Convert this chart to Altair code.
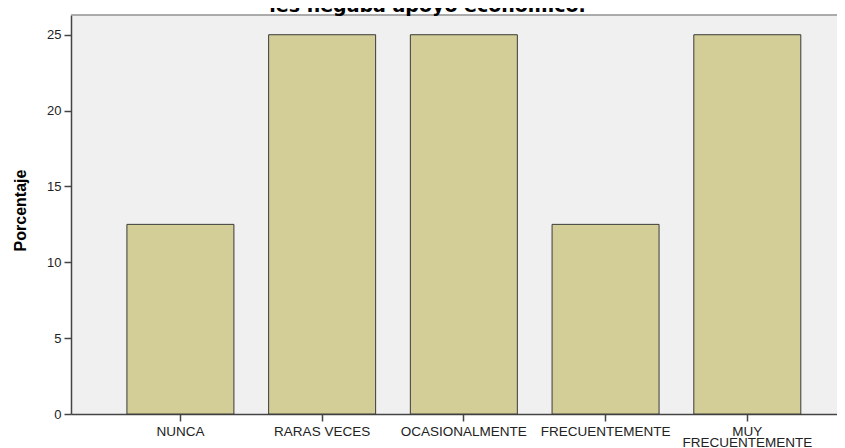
import altair as alt
import pandas as pd

categories = ["NUNCA", "RARAS VECES", "OCASIONALMENTE", "FRECUENTEMENTE", "MUY FRECUENTEMENTE"]
porcentaje = [12.5, 25.0, 25.0, 12.5, 25.0]
y_ticks = [0, 5, 10, 15, 20, 25]
title_text = "les negaba apoyo económico."
y_title = "Porcentaje"

df = pd.DataFrame({"cat": categories, "pct": porcentaje})

W, H = 766, 399

bars = alt.Chart(df).mark_bar(color="#d3ce97", stroke="#3a3a3a", strokeWidth=1).encode(
    x=alt.X(
        "cat:N",
        sort=categories,
        scale=alt.Scale(paddingInner=0.245, paddingOuter=0.325, align=0.607),
        axis=alt.Axis(
            title=None,
            labelAngle=0,
            labelFont="Liberation Sans",
            labelFontSize=13.5,
            labelColor="#222222",
            tickSize=7,
            tickColor="#444444",
            tickWidth=1.5,
            domainColor="#444444",
            domainWidth=1.5,
            labelPadding=3,
            labelLineHeight=11.5,
            labelOverlap=False,
            labelBound=False,
            labelExpr="datum.label == 'MUY FRECUENTEMENTE' ? ['MUY', 'FRECUENTEMENTE'] : datum.label",
        ),
    ),
    y=alt.Y(
        "pct:Q",
        scale=alt.Scale(domain=[0, 26.3], nice=False),
        axis=alt.Axis(
            values=y_ticks,
            title=y_title,
            grid=False,
            labelFont="Liberation Sans",
            labelFontSize=13,
            labelColor="#222222",
            labelPadding=3,
            tickSize=7,
            tickColor="#444444",
            tickWidth=1.5,
            domainColor="#444444",
            domainWidth=1.5,
            titleFont="Liberation Sans",
            titleFontSize=16,
            titleFontWeight="bold",
            titleColor="#000000",
            titleX=-46,
            titleY=195,
            titleBaseline="alphabetic",
            titleAlign="center",
            titleAngle=270,
        ),
    ),
)

top_line = alt.Chart(alt.Data(values=[{}])).mark_rule(color="#909090", strokeWidth=1.5).encode(
    x=alt.value(0), x2=alt.value(W), y=alt.value(0)
)

title = alt.Chart(alt.Data(values=[{"t": title_text}])).mark_text(
    font="DejaVu Sans", fontWeight="bold", fontSize=19, baseline="alphabetic", align="center", color="#000000"
).encode(text="t:N", x=alt.value(356.5), y=alt.value(-3))

chart = alt.layer(bars, top_line, title).properties(
    width=W,
    height=H,
    padding={"left": 63, "top": 7, "right": 0, "bottom": 34},
    autosize=alt.AutoSizeParams(type="none"),
    background="#ffffff",
).configure_view(fill="#f0f0f0", stroke="transparent")

chart.save("out.html", embed_options={"renderer": "svg", "actions": False})
